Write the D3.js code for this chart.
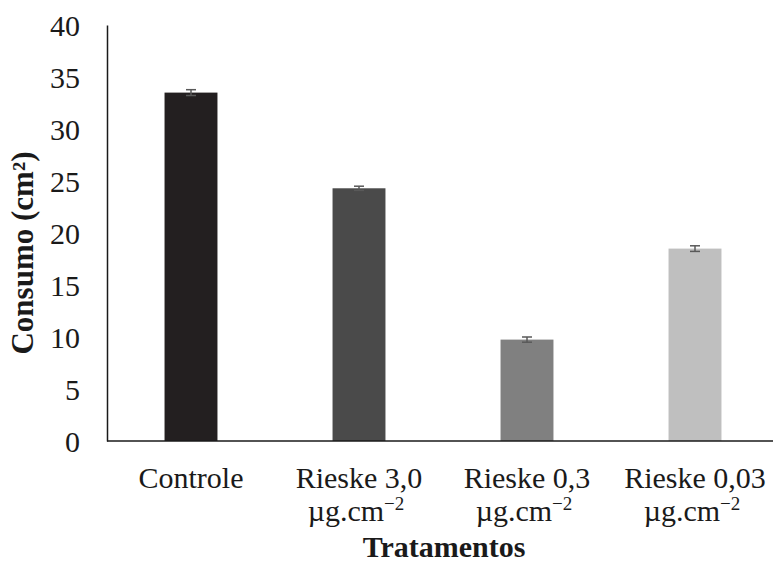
<!DOCTYPE html>
<html>
<head>
<meta charset="utf-8">
<script src="https://cdn.jsdelivr.net/npm/d3@7"></script>
<style>
  body { margin: 0; background: #fff; }
  text { font-family: "Liberation Serif", "Times New Roman", serif; fill: #1a1a1a; }
</style>
</head>
<body>
<svg id="chart" width="773" height="565"></svg>
<script>
// data
const categories = ['Controle', 'Rieske 3,0', 'Rieske 0,3', 'Rieske 0,03'];
const subLabels = ['', 'µg.cm', 'µg.cm', 'µg.cm'];
const values = [33.5, 24.3, 9.75, 18.5];
const errors = [0.28, 0.2, 0.25, 0.27];
const colors = ['#231f20', '#4a4a4a', '#808080', '#bfbfbf'];
const yTicks = [0, 5, 10, 15, 20, 25, 30, 35, 40];

const svg = d3.select('#chart');
const margin = { left: 107, right: 0, top: 25, bottom: 124 };
const width = 773, height = 565;
const serif = '"Liberation Serif", "Times New Roman", serif';

const x = d3.scaleBand()
  .domain(categories)
  .range([margin.left, margin.left + 4 * 168])
  .paddingInner(0.685)
  .paddingOuter(0.3425);

const y = d3.scaleLinear()
  .domain([0, 40])
  .range([height - margin.bottom, margin.top]);

// bars
svg.append('g')
  .selectAll('rect')
  .data(categories)
  .enter().append('rect')
  .attr('x', d => x(d))
  .attr('y', (d, i) => y(values[i]))
  .attr('width', x.bandwidth())
  .attr('height', (d, i) => y(0) - y(values[i]))
  .style('fill', (d, i) => colors[i]);

// error bars
const err = svg.append('g')
  .selectAll('g')
  .data(categories)
  .enter().append('g')
  .style('stroke', '#595959')
  .style('stroke-width', 1.5);
err.append('line')
  .attr('x1', d => x(d) + x.bandwidth() / 2)
  .attr('x2', d => x(d) + x.bandwidth() / 2)
  .attr('y1', (d, i) => y(values[i] + errors[i]))
  .attr('y2', (d, i) => y(values[i] - errors[i]));
[1, -1].forEach(s => {
  err.append('line')
    .attr('x1', d => x(d) + x.bandwidth() / 2 - 5)
    .attr('x2', d => x(d) + x.bandwidth() / 2 + 5)
    .attr('y1', (d, i) => y(values[i] + s * errors[i]))
    .attr('y2', (d, i) => y(values[i] + s * errors[i]));
});

// y axis
const yAxis = svg.append('g')
  .attr('transform', `translate(${margin.left},0)`)
  .call(d3.axisLeft(y).tickValues(yTicks).tickSize(0).tickPadding(27));
yAxis.select('.domain').style('stroke', '#1a1a1a').style('stroke-width', 1.5);
yAxis.selectAll('text')
  .attr('dy', '0.34em')
  .style('font-size', '30px')
  .style('font-family', serif)
  .style('fill', '#1a1a1a');

// x axis line
svg.append('line')
  .attr('x1', margin.left)
  .attr('x2', width)
  .attr('y1', y(0))
  .attr('y2', y(0))
  .style('stroke', '#1a1a1a')
  .style('stroke-width', 1.5);

// category labels
const lab = svg.append('g')
  .selectAll('text')
  .data(categories)
  .enter().append('text')
  .attr('text-anchor', 'middle')
  .style('font-size', '30px');
lab.append('tspan')
  .attr('x', d => x(d) + x.bandwidth() / 2)
  .attr('y', 488)
  .text(d => d);
lab.filter(d => subLabels[categories.indexOf(d)] !== '')
  .append('tspan')
  .attr('x', d => x(d) + x.bandwidth() / 2 - 3)
  .attr('y', 521)
  .text(d => subLabels[categories.indexOf(d)])
  .append('tspan')
  .attr('dy', -11)
  .style('font-size', '19px')
  .text('\u22122');

// axis titles
svg.append('text')
  .attr('x', 444)
  .attr('y', 557)
  .attr('text-anchor', 'middle')
  .style('font-size', '30px')
  .style('font-weight', 'bold')
  .text('Tratamentos');

svg.append('text')
  .attr('transform', 'translate(33,253) rotate(-90)')
  .attr('text-anchor', 'middle')
  .style('font-size', '31px')
  .style('font-weight', 'bold')
  .text('Consumo (cm²)');
</script>
</body>
</html>
